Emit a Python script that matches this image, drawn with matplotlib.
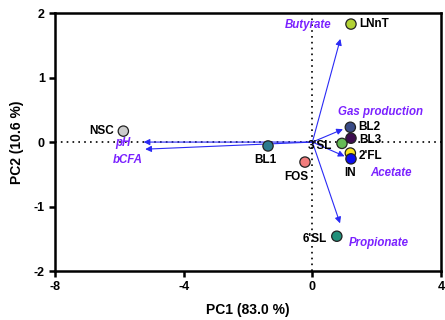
import matplotlib
matplotlib.use("Agg")
import matplotlib.pyplot as plt

plt.rcParams['font.family'] = ['Liberation Sans', 'DejaVu Sans']
plt.rcParams['font.weight'] = 'bold'
plt.rcParams['axes.unicode_minus'] = False

# sample scores
names = ["LNnT", "NSC", "BL1", "FOS", "3'SL", "BL2", "BL3", "2'FL", "IN", "6'SL"]
pc1 = [1.2, -5.88, -1.38, -0.23, 0.92, 1.18, 1.2, 1.18, 1.2, 0.76]
pc2 = [1.83, 0.17, -0.06, -0.31, -0.02, 0.23, 0.06, -0.17, -0.26, -1.46]
colors = ["#b2d234", "#cccccc", "#2b7b8e", "#f27d7d", "#66bb55",
          "#3a4b86", "#3d0c4e", "#fbe41f", "#0d0df0", "#21907a"]

# loadings
vars_ = ["Butyrate", "Gas production", "Acetate", "Propionate", "pH", "bCFA"]
load1 = [0.87, 0.95, 1.0, 0.86, -5.25, -5.2]
load2 = [1.6, 0.2, -0.22, -1.26, 0.0, -0.11]

fig, ax = plt.subplots(figsize=(4.45, 3.2), dpi=100)
fig.subplots_adjust(left=0.124, right=0.991, top=0.959, bottom=0.153)

ax.axhline(0, color='black', ls=(0, (1, 2.5)), lw=1.2, zorder=1)
ax.axvline(0, color='black', ls=(0, (1, 2.5)), lw=1.2, zorder=1)

for x, y in zip(load1, load2):
    ax.annotate('', xy=(x, y), xytext=(0, 0),
                arrowprops=dict(arrowstyle='-|>', color='#2a2af5', lw=0.8,
                                mutation_scale=9, shrinkA=0, shrinkB=0),
                zorder=2)

ax.scatter(pc1, pc2, s=55, c=colors, edgecolors='#222222', linewidths=0.9, zorder=3)

# sample labels
offs = {"LNnT": (6, 0, 'left', 'center'), "NSC": (-7, 0, 'right', 'center'),
        "BL1": (-2, -10, 'center', 'center'), "FOS": (-6, -11, 'center', 'center'),
        "3'SL": (-7, -2, 'right', 'center'), "BL2": (6, 0, 'left', 'center'),
        "BL3": (6, -1, 'left', 'center'), "2'FL": (6, -2, 'left', 'center'),
        "IN": (-1, -10, 'center', 'center'), "6'SL": (-7, -2, 'right', 'center')}
for n, x, y in zip(names, pc1, pc2):
    dx, dy, ha, va = offs[n]
    ax.annotate(n, (x, y), xytext=(dx, dy), textcoords='offset points',
                ha=ha, va=va, fontsize=8.5, fontweight='bold', zorder=4)

# loading labels
lab_pos = {"Butyrate": (-0.14, 1.81), "Gas production": (2.13, 0.46),
           "Acetate": (2.45, -0.48), "Propionate": (2.08, -1.57),
           "pH": (-5.9, -0.02), "bCFA": (-5.73, -0.28)}
for v in vars_:
    x, y = lab_pos[v]
    ax.text(x, y, v, color='#7b22ff', fontsize=8.3, fontweight='bold',
            fontstyle='italic', ha='center', va='center', zorder=4)

ax.set_xlim(-8, 4)
ax.set_ylim(-2, 2)
ax.set_xticks([-8, -4, 0, 4])
ax.set_yticks([-2, -1, 0, 1, 2])
for s in ax.spines.values():
    s.set_linewidth(1.8)
ax.tick_params(direction='out', width=1.8, length=4, labelsize=9)
for lbl in ax.get_xticklabels() + ax.get_yticklabels():
    lbl.set_fontweight('bold')
ax.set_xlabel('PC1 (83.0 %)', fontsize=10, fontweight='bold', labelpad=7)
ax.set_ylabel('PC2 (10.6 %)', fontsize=10, fontweight='bold', labelpad=7)

plt.savefig('out.png', dpi=100)
